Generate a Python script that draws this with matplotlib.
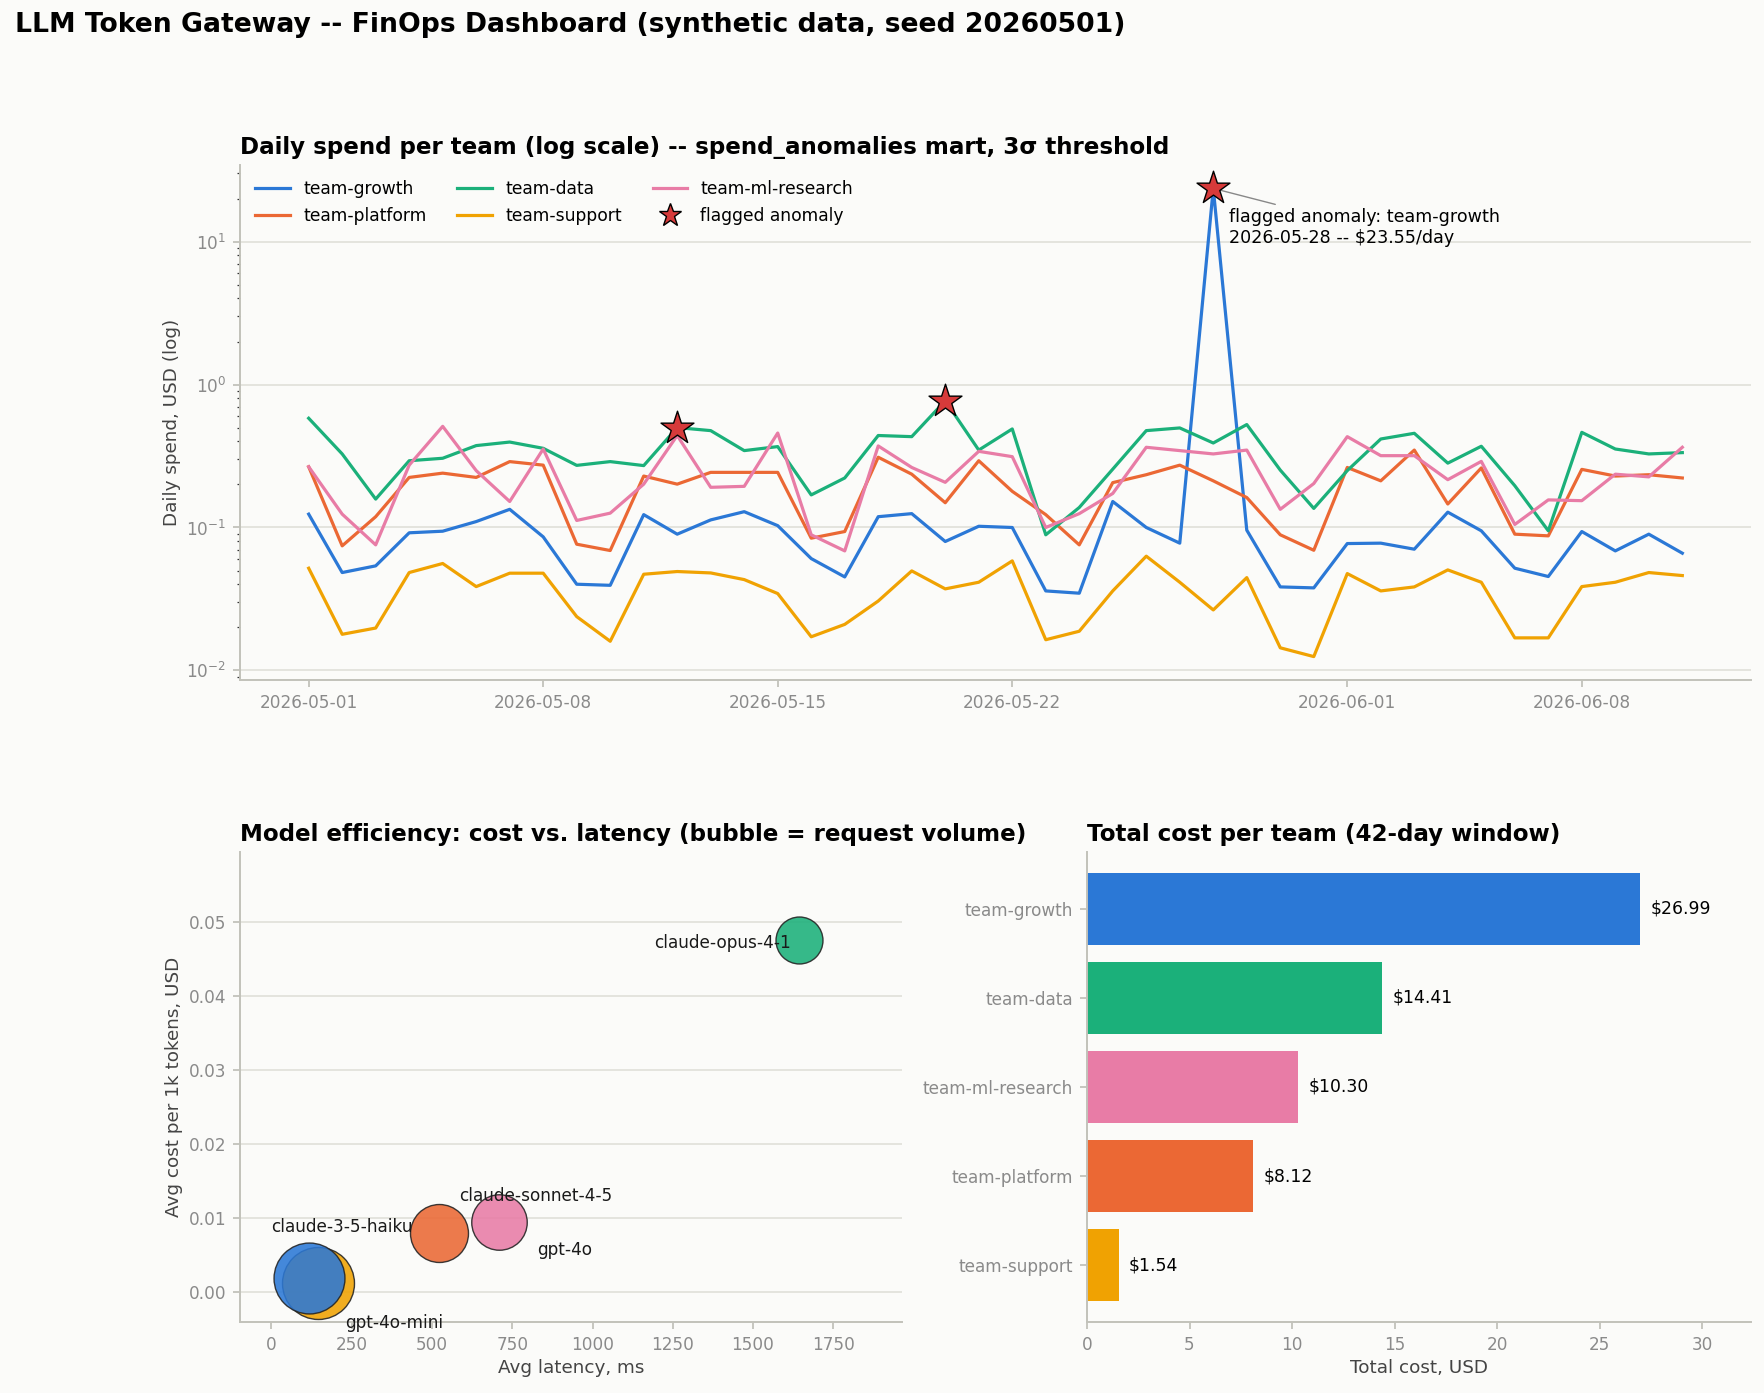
"""
LLM token gateway FinOps dashboard: daily spend per team (log), model
cost-vs-latency bubbles, and 42-day total cost per team.
"""
import numpy as np
import pandas as pd
import matplotlib
matplotlib.use("Agg")
import matplotlib.pyplot as plt
from matplotlib.lines import Line2D

# ---------------- data ----------------
START_DATE = "2026-05-01"
N_DAYS = 42

growth = [0.124, 0.0484, 0.0539, 0.0918, 0.0942, 0.110, 0.134, 0.0860, 0.0401, 0.0394,
          0.123, 0.0898, 0.113, 0.129, 0.103, 0.0606, 0.0451, 0.119, 0.125, 0.0798,
          0.102, 0.100, 0.036, 0.0347, 0.152, 0.100, 0.0777, 23.55, 0.0958, 0.0384,
          0.0378, 0.0772, 0.0777, 0.0705, 0.128, 0.0948, 0.0519, 0.0454, 0.0937, 0.0686,
          0.0898, 0.0661]
platform = [0.266, 0.0744, 0.119, 0.224, 0.240, 0.224, 0.289, 0.273, 0.0764, 0.0690,
            0.229, 0.201, 0.243, 0.243, 0.243, 0.0842, 0.0937, 0.310, 0.236, 0.149,
            0.293, 0.179, 0.123, 0.0756, 0.206, 0.234, 0.273, 0.212, 0.162, 0.0889,
            0.0693, 0.263, 0.212, 0.348, 0.146, 0.261, 0.0898, 0.0874, 0.255, 0.229,
            0.234, 0.222]
data_team = [0.581, 0.327, 0.158, 0.293, 0.305, 0.374, 0.396, 0.358, 0.272, 0.289,
             0.271, 0.50, 0.476, 0.345, 0.368, 0.169, 0.222, 0.44, 0.432, 0.77,
             0.348, 0.489, 0.0889, 0.138, 0.256, 0.476, 0.497, 0.390, 0.525, 0.252,
             0.136, 0.250, 0.416, 0.456, 0.282, 0.370, 0.196, 0.0948, 0.463, 0.354,
             0.327, 0.334]
support = [0.0519, 0.0179, 0.0198, 0.0484, 0.0560, 0.0386, 0.0479, 0.0479, 0.0238, 0.0160,
           0.0471, 0.0492, 0.0481, 0.0432, 0.0345, 0.0172, 0.0210, 0.0306, 0.0497, 0.0372,
           0.0414, 0.0584, 0.0164, 0.0188, 0.036, 0.0630, 0.0414, 0.0265, 0.0446, 0.0144,
           0.0125, 0.0476, 0.036, 0.0384, 0.0505, 0.0414, 0.0169, 0.0169, 0.0386, 0.0414,
           0.0484, 0.0461]
ml_research = [0.266, 0.124, 0.0756, 0.273, 0.510, 0.250, 0.152, 0.354, 0.112, 0.126,
               0.201, 0.44, 0.191, 0.194, 0.458, 0.0889, 0.0686, 0.372, 0.263, 0.207,
               0.341, 0.313, 0.100, 0.125, 0.173, 0.364, 0.345, 0.327, 0.348, 0.134,
               0.203, 0.432, 0.318, 0.318, 0.216, 0.290, 0.105, 0.156, 0.154, 0.236,
               0.226, 0.364]

team_names = ["team-growth", "team-platform", "team-data", "team-support", "team-ml-research"]
team_series = [growth, platform, data_team, support, ml_research]

# flagged anomalies: (team, day index)
anomaly_team = ["team-data", "team-data", "team-growth"]
anomaly_day = [11, 19, 27]

# model efficiency
models = ["gpt-4o-mini", "claude-3-5-haiku", "claude-sonnet-4-5", "gpt-4o", "claude-opus-4-1"]
latency_ms = [144, 116, 523, 710, 1644]
cost_per_1k = [0.00126, 0.00187, 0.00793, 0.00944, 0.0476]
requests = [10100, 9800, 6550, 6000, 4300]

# totals per team (42-day window)
bar_teams = ["team-growth", "team-data", "team-ml-research", "team-platform", "team-support"]
bar_totals = [26.99, 14.41, 10.30, 8.12, 1.54]

# ---------------- style ----------------
BG = "#fbfbf9"
GRID = "#e2e2dc"
SPINE = "#c2c2ba"
TICK_TXT = "#8a8a8a"
LABEL_TXT = "#444444"
COLORS = {
    "team-growth": "#2b78d6",
    "team-platform": "#eb6834",
    "team-data": "#1bb07a",
    "team-support": "#f0a202",
    "team-ml-research": "#e87ca6",
}
MODEL_COLORS = {
    "claude-3-5-haiku": "#2b78d6",
    "claude-sonnet-4-5": "#eb6834",
    "claude-opus-4-1": "#1bb07a",
    "gpt-4o-mini": "#f0a202",
    "gpt-4o": "#e87ca6",
}
STAR = "#d63a3a"

plt.rcParams.update({
    "font.family": ["DejaVu Sans"],
    "figure.facecolor": BG,
    "axes.facecolor": BG,
    "axes.edgecolor": SPINE,
    "axes.labelcolor": LABEL_TXT,
    "axes.labelsize": 13.2,
    "axes.titlesize": 16.6,
    "axes.titleweight": "bold",
    "xtick.color": SPINE,
    "ytick.color": SPINE,
    "xtick.labelcolor": TICK_TXT,
    "ytick.labelcolor": TICK_TXT,
    "xtick.labelsize": 12.2,
    "ytick.labelsize": 12.2,
    "xtick.major.size": 4.8,
    "ytick.major.size": 4.8,
    "xtick.major.width": 1.3,
    "ytick.major.width": 1.3,
    "xtick.major.pad": 5.2,
    "ytick.major.pad": 5.2,
    "ytick.minor.size": 2.4,
    "legend.fontsize": 12.3,
})

W, H = 1765, 1393
fig = plt.figure(figsize=(W / 100, H / 100), dpi=100)


def frac(l, t, r, b):
    return [l / W, 1 - b / H, (r - l) / W, (b - t) / H]


def clean(ax, ygrid=True):
    for s in ("top", "right"):
        ax.spines[s].set_visible(False)
    for s in ("left", "bottom"):
        ax.spines[s].set_linewidth(1.4)
    if ygrid:
        ax.grid(axis="y", color=GRID, lw=1.3)
        ax.set_axisbelow(True)


# ---------------- panel 1: daily spend ----------------
ax = fig.add_axes(frac(240, 165, 1751, 680))
dates = pd.date_range(START_DATE, periods=N_DAYS, freq="D")
series = dict(zip(team_names, team_series))
for name in team_names:
    ax.plot(dates, series[name], color=COLORS[name], lw=2.3, label=name)

ax_x = [dates[d] for d in anomaly_day]
ax_y = [series[t][d] for t, d in zip(anomaly_team, anomaly_day)]
ax.scatter(ax_x, ax_y, marker="*", s=620, color=STAR, edgecolor="black",
           linewidth=1.0, zorder=5)

ax.set_yscale("log")
ax.set_ylabel("Daily spend, USD (log)")
ax.set_title("Daily spend per team (log scale) -- spend_anomalies mart, 3\u03c3 threshold",
             loc="left", pad=8)
clean(ax)
ax.grid(axis="y", which="minor", visible=False)
ax.tick_params(axis="y", which="minor", color="#333333", width=0.9)

big = int(np.argmax(growth))
ax.annotate(f"flagged anomaly: team-growth\n{dates[big]:%Y-%m-%d} -- ${growth[big]:.2f}/day",
            xy=(dates[big], growth[big]), xytext=(11, -14), textcoords="offset points",
            ha="left", va="top", fontsize=12.6, color="black",
            arrowprops=dict(arrowstyle="-", color="#888888", lw=1.0))

handles, labels = ax.get_legend_handles_labels()
handles.append(Line2D([], [], ls="none", marker="*", markersize=17,
                      markerfacecolor=STAR, markeredgecolor="black", markeredgewidth=1.0))
labels.append("flagged anomaly")
ax.legend(handles, labels, loc="upper left", ncol=3, frameon=False,
          columnspacing=1.8, handlelength=2.0)

# ---------------- panel 2: model efficiency ----------------
ax = fig.add_axes(frac(240, 852, 902, 1322))
for m, x, y, r in zip(models, latency_ms, cost_per_1k, requests):
    ax.scatter(x, y, s=r * 0.266, color=MODEL_COLORS[m], alpha=0.88,
               edgecolor="#222222", linewidth=1.0, zorder=3)

label_offsets = {
    "claude-3-5-haiku": (-27, 37, "left"),
    "gpt-4o-mini": (20, -29, "left"),
    "claude-sonnet-4-5": (14, 27, "left"),
    "gpt-4o": (27, -20, "left"),
    "claude-opus-4-1": (-6, -2, "right"),
}
for m, x, y in zip(models, latency_ms, cost_per_1k):
    dx, dy, ha = label_offsets[m]
    ax.annotate(m, (x, y), xytext=(dx, dy), textcoords="offset points",
                ha=ha, va="center", fontsize=12.2, color="#1a1a1a", zorder=4)

ax.set_xlim(-98, 1964)
ax.set_ylim(-0.00405, 0.0595)
ax.set_xticks(np.arange(0, 1751, 250))
ax.set_yticks(np.arange(0, 0.051, 0.01))
ax.yaxis.set_major_formatter(plt.FormatStrFormatter("%.2f"))
ax.set_xlabel("Avg latency, ms")
ax.set_ylabel("Avg cost per 1k tokens, USD")
ax.set_title("Model efficiency: cost vs. latency (bubble = request volume)", loc="left", pad=8)
clean(ax)

# ---------------- panel 3: total cost per team ----------------
ax = fig.add_axes(frac(1087, 852, 1751, 1322))
ypos = np.arange(len(bar_teams))
ax.barh(ypos, bar_totals, height=0.8, color=[COLORS[t] for t in bar_teams])
for yy, v in zip(ypos, bar_totals):
    ax.annotate(f"${v:.2f}", (v, yy), xytext=(7.5, 0), textcoords="offset points",
                ha="left", va="center", fontsize=12.4, color="black")
ax.set_yticks(ypos)
ax.set_yticklabels(bar_teams)
ax.invert_yaxis()
ax.set_xlim(0, max(bar_totals) * 1.2)
ax.set_xlabel("Total cost, USD")
ax.set_title("Total cost per team (42-day window)", loc="left", pad=8)
clean(ax, ygrid=False)

fig.text(15 / W, 1 - 12 / H,
         "LLM Token Gateway -- FinOps Dashboard (synthetic data, seed 20260501)",
         ha="left", va="top", fontsize=19.2, fontweight="bold")

fig.savefig("out.png", dpi=100, facecolor=BG)
